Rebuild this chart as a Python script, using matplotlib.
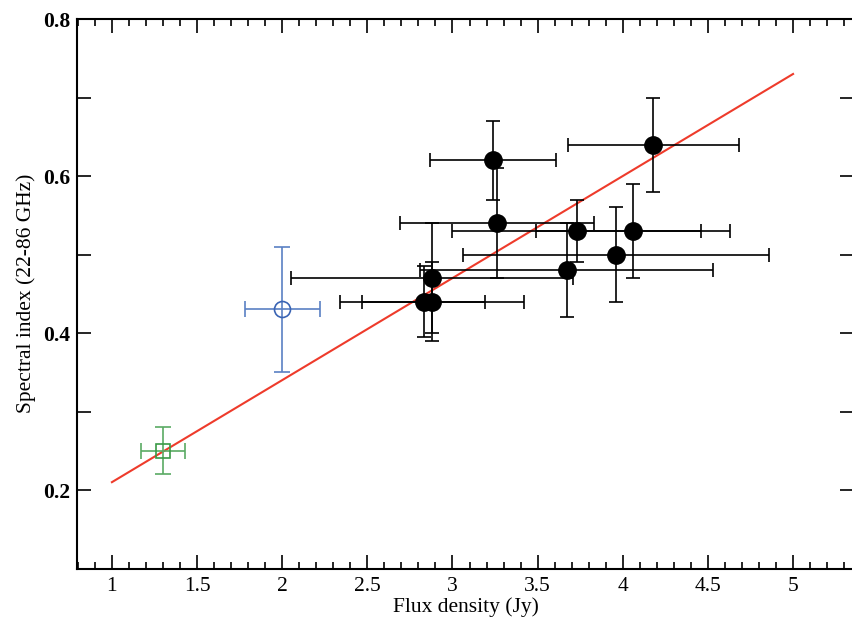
import numpy as np
import matplotlib
matplotlib.use('Agg')
import matplotlib.pyplot as plt
from matplotlib.ticker import MultipleLocator

plt.rcParams['font.family'] = ['Liberation Serif', 'DejaVu Serif']

# Black points: flux density, spectral index and their errors
flux = np.array([2.83, 2.88, 2.88, 3.24, 3.26, 3.67, 3.73, 3.96, 4.06, 4.18])
flux_err = np.array([0.36, 0.54, 0.83, 0.37, 0.57, 0.86, 0.73, 0.90, 0.57, 0.50])
alpha = np.array([0.44, 0.44, 0.47, 0.62, 0.54, 0.48, 0.53, 0.50, 0.53, 0.64])
alpha_err = np.array([0.045, 0.05, 0.07, 0.05, 0.07, 0.06, 0.04, 0.06, 0.06, 0.06])

# Blue open circle
blue_flux, blue_flux_err = 2.0, 0.22
blue_alpha, blue_alpha_err = 0.43, 0.08

# Green open square
green_flux, green_flux_err = 1.30, 0.13
green_alpha, green_alpha_err = 0.25, 0.03

# Red fit line end points
fit_x = [1.0, 5.0]
fit_y = [0.21, 0.73]

fig = plt.figure(figsize=(8.53, 6.22), dpi=100)
ax = fig.add_axes([0.0903, 0.086, 0.9113, 0.8834])

ax.plot(fit_x, fit_y, color='#ee3b2b', lw=1.5, zorder=1)

ax.errorbar(flux, alpha, xerr=flux_err, yerr=alpha_err, fmt='o', color='black',
            ms=12.5, elinewidth=1.2, capsize=5, capthick=1.2, zorder=3)
ax.errorbar(blue_flux, blue_alpha, xerr=blue_flux_err, yerr=blue_alpha_err,
            fmt='o', mfc='none', mec='#3a64b4', ms=11.5, mew=1.2,
            ecolor='#5a80c4', elinewidth=1.2, capsize=6, capthick=1.2, zorder=2)
ax.errorbar(green_flux, green_alpha, xerr=green_flux_err, yerr=green_alpha_err,
            fmt='s', mfc='none', mec='#3a9a45', ms=9.5, mew=1.2,
            ecolor='#5aaa64', elinewidth=1.2, capsize=5.5, capthick=1.2, zorder=2)

ax.set_xlim(0.795, 5.36)
ax.set_ylim(0.1, 0.8)

ax.xaxis.set_minor_locator(MultipleLocator(0.1))
ax.set_xticks([1, 1.5, 2, 2.5, 3, 3.5, 4, 4.5, 5])
ax.set_xticklabels(['1', '1.5', '2', '2.5', '3', '3.5', '4', '4.5', '5'])
ax.set_yticks(np.arange(0.2, 0.81, 0.1))
ax.set_yticklabels(['0.2', '', '0.4', '', '0.6', '', '0.8'], fontweight='bold')

ax.tick_params(which='both', direction='in', top=True, right=True, width=1.2,
               labelsize=15.5)
ax.tick_params(axis='x', which='major', length=10, pad=6)
ax.tick_params(axis='y', which='major', length=10, pad=5)
ax.tick_params(axis='x', which='minor', length=5)

for sp in ax.spines.values():
    sp.set_linewidth(1.5)

ax.set_xlabel('Flux density (Jy)', fontsize=15.5, labelpad=1)
ax.set_ylabel('Spectral index (22-86 GHz)', fontsize=15.5, labelpad=5)

fig.savefig('out.png', dpi=100)
